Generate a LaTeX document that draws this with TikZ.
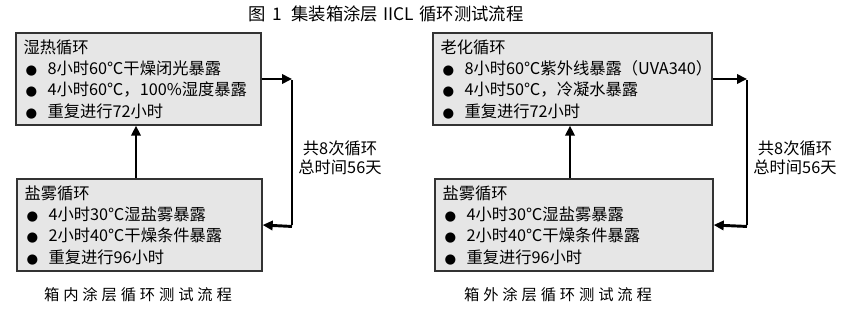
\documentclass[tikz,border=0pt]{standalone}
\usepackage{fontspec}
\setmainfont{Noto Sans CJK SC}
\newfontfamily\dejavu{DejaVu Sans}
\newfontfamily\capfont[LetterSpace=25]{Noto Sans CJK SC}
\usetikzlibrary{arrows.meta,fit,calc}
\newcommand\bl{\makebox[18pt][l]{\kern1.5pt\raisebox{0pt}{\dejavu\fontsize{10}{10}\selectfont ●}}}
\definecolor{boxfill}{HTML}{E6E6E6}
\definecolor{boxline}{HTML}{333333}
\tikzset{
  box/.style={draw=boxline, line width=1pt, fill=boxfill, inner sep=0pt},
  boxtext/.style={anchor=west, align=left, inner sep=0pt, font=\fontsize{12.2}{16}\selectfont},
  lbl/.style={align=center, inner sep=0pt, font=\fontsize{12.2}{14.3}\selectfont},
  capt/.style={inner sep=0pt, font=\capfont\fontsize{11.5}{13}\selectfont},
  ttl/.style={inner sep=0pt, font=\fontsize{13}{15}\selectfont},
  arr/.style={line width=2.2pt, -{Triangle[length=7.5pt,width=7pt]}},
  seg/.style={line width=2.2pt}
}
\begin{document}
\begin{tikzpicture}[x=0.75pt,y=-0.75pt]
\useasboundingbox (0,0) rectangle (856,310);
% title
\node[ttl] (title) at (386,14) {图\hspace{5pt}1\hspace{7pt}集装箱涂层\hspace{4pt}IICL\hspace{4pt}循环测试流程};
% left group
\node[box, fit={(16,33) (261,125)}] (a1) {};
\node[boxtext] (a1t) at ([xshift=6pt]a1.west) {湿热循环\\\bl 8小时60℃干燥闭光暴露\\\bl 4小时60℃，100\%湿度暴露\\\bl 重复进行72小时};
\node[box, fit={(17,179) (262,271)}] (b1) {};
\node[boxtext] (b1t) at ([xshift=6pt]b1.west) {盐雾循环\\\bl 4小时30℃湿盐雾暴露\\\bl 2小时40℃干燥条件暴露\\\bl 重复进行96小时};
\coordinate (c1) at (292,80);
\draw[arr] (b1.north -| 136,0) -- (a1.south -| 136,0);
\draw[arr] (a1.east) -- (a1.east -| c1);
\draw[seg] (c1) -- (b1.east -| c1);
\draw[arr] ([yshift=-1.1pt]b1.east -| c1) -- (b1.east);
\node[lbl] (l1) at (340,158) {共8次循环\\总时间56天};
\node[capt] (cap1) at (138,295) {箱内涂层循环测试流程};
% right group
\node[box, fit={(433,33) (712,125)}] (a2) {};
\node[boxtext] (a2t) at ([xshift=6pt]a2.west) {老化循环\\\bl 8小时60℃紫外线暴露（UVA340）\\\bl 4小时50℃，冷凝水暴露\\\bl 重复进行72小时};
\node[box, fit={(435,179) (713,271)}] (b2) {};
\node[boxtext] (b2t) at ([xshift=6pt]b2.west) {盐雾循环\\\bl 4小时30℃湿盐雾暴露\\\bl 2小时40℃干燥条件暴露\\\bl 重复进行96小时};
\coordinate (c2) at (747,80);
\draw[arr] (b2.north -| 570,0) -- (a2.south -| 570,0);
\draw[arr] (a2.east) -- (a2.east -| c2);
\draw[seg] (c2) -- (b2.east -| c2);
\draw[arr] ([yshift=-1.1pt]b2.east -| c2) -- (b2.east);
\node[lbl] (l2) at (795,158) {共8次循环\\总时间56天};
\node[capt] (cap2) at (558,295) {箱外涂层循环测试流程};
\end{tikzpicture}
\end{document}
